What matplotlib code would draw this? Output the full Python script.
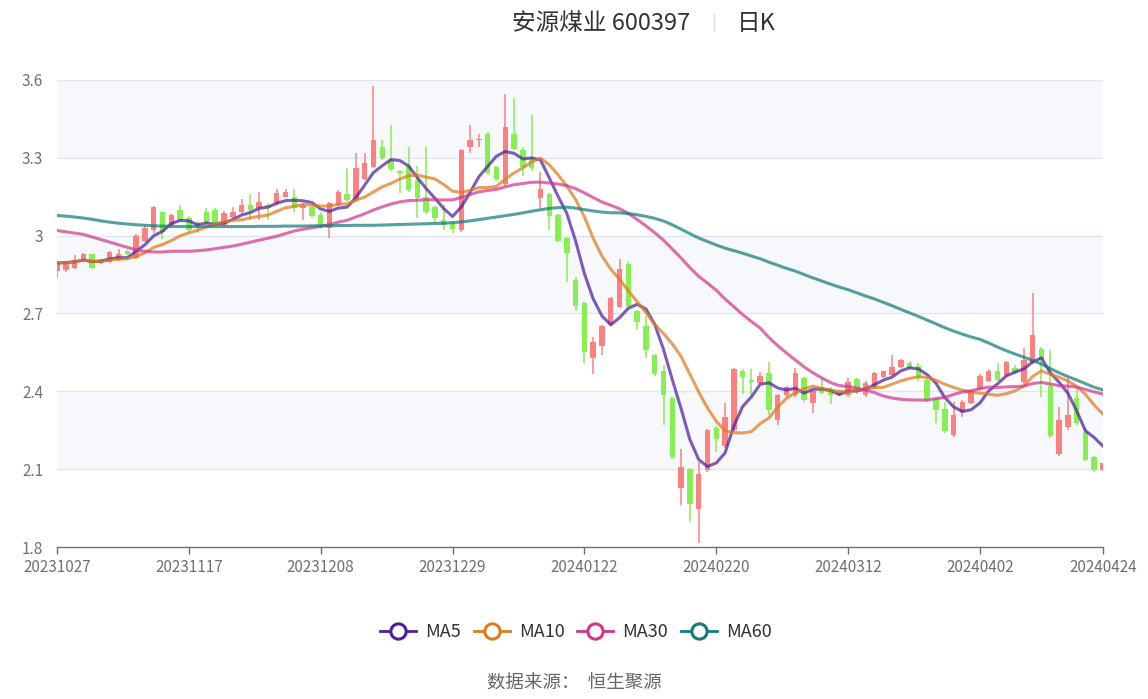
import numpy as np
import pandas as pd
import matplotlib
matplotlib.use("Agg")
import matplotlib.pyplot as plt
from matplotlib.lines import Line2D

plt.rcParams['font.family'] = ['Noto Sans CJK SC', 'DejaVu Sans']

# daily candles (open, high, low, close)
opens = [2.862, 2.868, 2.876, 2.902, 2.928, 2.895, 2.898, 2.906, 2.94, 2.914,
         2.98, 3.02, 3.09, 3.04, 3.10, 3.07, 3.05, 3.09, 3.10, 3.04,
         3.072, 3.09, 3.12, 3.107, 3.12, 3.126, 3.15, 3.15, 3.107, 3.11,
         3.08, 3.03, 3.12, 3.16, 3.137, 3.22, 3.265, 3.34, 3.29, 3.25,
         3.27, 3.215, 3.15, 3.11, 3.06, 3.05, 3.02, 3.34, 3.368, 3.39,
         3.265, 3.20, 3.39, 3.33, 3.30, 3.145, 3.16, 3.08, 2.99, 2.83,
         2.74, 2.53, 2.575, 2.66, 2.725, 2.89, 2.71, 2.65, 2.54, 2.48,
         2.374, 2.027, 2.10, 1.946, 2.097, 2.26, 2.19, 2.25, 2.48, 2.444,
         2.432, 2.47, 2.29, 2.386, 2.386, 2.45, 2.355, 2.416, 2.41, 2.40,
         2.386, 2.447, 2.386, 2.416, 2.455, 2.463, 2.494, 2.51, 2.497, 2.444,
         2.37, 2.33, 2.23, 2.32, 2.355, 2.41, 2.44, 2.48, 2.463, 2.49,
         2.436, 2.51, 2.563, 2.42, 2.158, 2.262, 2.374, 2.243, 2.147, 2.097]
highs = [2.90, 2.90, 2.925, 2.935, 2.93, 2.91, 2.94, 2.95, 2.945, 3.005,
         3.04, 3.115, 3.095, 3.085, 3.12, 3.075, 3.055, 3.105, 3.105, 3.095,
         3.11, 3.14, 3.16, 3.17, 3.125, 3.18, 3.18, 3.18, 3.125, 3.115,
         3.09, 3.13, 3.175, 3.26, 3.32, 3.32, 3.577, 3.37, 3.427, 3.255,
         3.34, 3.27, 3.34, 3.115, 3.12, 3.055, 3.335, 3.427, 3.39, 3.40,
         3.27, 3.546, 3.53, 3.34, 3.465, 3.245, 3.165, 3.085, 2.995, 2.84,
         2.745, 2.61, 2.655, 2.765, 2.91, 2.90, 2.715, 2.69, 2.545, 2.50,
         2.38, 2.178, 2.105, 2.127, 2.255, 2.265, 2.355, 2.49, 2.485, 2.486,
         2.474, 2.513, 2.39, 2.42, 2.49, 2.455, 2.405, 2.45, 2.415, 2.405,
         2.45, 2.45, 2.44, 2.475, 2.48, 2.54, 2.525, 2.515, 2.51, 2.45,
         2.375, 2.36, 2.36, 2.365, 2.405, 2.465, 2.485, 2.51, 2.518, 2.50,
         2.567, 2.78, 2.57, 2.56, 2.34, 2.45, 2.41, 2.26, 2.15, 2.125]
lows = [2.837, 2.86, 2.87, 2.898, 2.872, 2.89, 2.895, 2.902, 2.925, 2.91,
        2.975, 3.012, 2.987, 3.03, 3.055, 3.01, 3.01, 3.045, 3.045, 3.035,
        3.06, 3.085, 3.06, 3.06, 3.06, 3.12, 3.145, 3.09, 3.06, 3.07,
        3.03, 2.99, 3.115, 3.13, 3.13, 3.215, 3.26, 3.29, 3.25, 3.165,
        3.17, 3.07, 3.085, 3.05, 3.02, 3.01, 3.015, 3.32, 3.34, 3.235,
        3.21, 3.19, 3.33, 3.23, 3.25, 3.106, 3.02, 2.975, 2.82, 2.71,
        2.51, 2.467, 2.54, 2.655, 2.72, 2.725, 2.636, 2.53, 2.46, 2.27,
        2.14, 1.96, 1.896, 1.815, 2.09, 2.166, 2.18, 2.245, 2.39, 2.386,
        2.43, 2.31, 2.27, 2.38, 2.38, 2.36, 2.316, 2.39, 2.35, 2.385,
        2.38, 2.39, 2.38, 2.41, 2.45, 2.46, 2.49, 2.485, 2.44, 2.36,
        2.278, 2.24, 2.225, 2.30, 2.35, 2.405, 2.435, 2.44, 2.455, 2.465,
        2.43, 2.505, 2.378, 2.22, 2.15, 2.25, 2.27, 2.13, 2.09, 2.093]
closes = [2.895, 2.897, 2.905, 2.928, 2.876, 2.906, 2.936, 2.93, 2.928, 3.0,
          3.03, 3.11, 3.015, 3.078, 3.06, 3.022, 3.035, 3.05, 3.05, 3.087,
          3.09, 3.12, 3.10, 3.13, 3.11, 3.165, 3.17, 3.107, 3.12, 3.076,
          3.04, 3.126, 3.17, 3.137, 3.26, 3.28, 3.37, 3.30, 3.257, 3.24,
          3.176, 3.145, 3.09, 3.07, 3.04, 3.025, 3.33, 3.37, 3.372, 3.24,
          3.22, 3.42, 3.334, 3.265, 3.26, 3.18, 3.076, 2.98, 2.933, 2.73,
          2.55, 2.59, 2.65, 2.76, 2.87, 2.73, 2.667, 2.56, 2.467, 2.385,
          2.147, 2.108, 1.966, 2.08, 2.25, 2.216, 2.30, 2.486, 2.455, 2.436,
          2.459, 2.328, 2.386, 2.416, 2.47, 2.367, 2.40, 2.394, 2.386, 2.39,
          2.436, 2.40, 2.432, 2.47, 2.477, 2.494, 2.522, 2.49, 2.45, 2.366,
          2.328, 2.247, 2.31, 2.36, 2.40, 2.459, 2.48, 2.445, 2.513, 2.474,
          2.52, 2.617, 2.52, 2.228, 2.29, 2.31, 2.278, 2.135, 2.097, 2.123]

ma30_head = [3.02, 3.015, 3.01, 3.005, 2.995, 2.985, 2.975, 2.965, 2.955, 2.945,
             2.94, 2.937, 2.937, 2.94, 2.94, 2.94, 2.942, 2.945, 2.95, 2.955,
             2.96, 2.967, 2.975, 2.983, 2.99, 2.998, 3.008, 3.018, 3.025]
ma60_head = [3.078, 3.075, 3.072, 3.068, 3.063, 3.057, 3.052, 3.048, 3.045, 3.042,
             3.04, 3.038, 3.037, 3.036, 3.035, 3.035, 3.035, 3.035, 3.035, 3.035,
             3.035, 3.035, 3.035, 3.036, 3.036, 3.036, 3.037, 3.037, 3.037, 3.038,
             3.038, 3.038, 3.039, 3.039, 3.04, 3.04, 3.04, 3.041, 3.042, 3.043,
             3.044, 3.045, 3.046, 3.047, 3.048, 3.05, 3.053, 3.057, 3.062, 3.067,
             3.072, 3.077, 3.082, 3.088, 3.094, 3.10, 3.105, 3.108, 3.11]

tick_idx = [0, 15, 30, 45, 60, 75, 90, 105, 119]
tick_dates = ['20231027', '20231117', '20231208', '20231229', '20240122',
              '20240220', '20240312', '20240402', '20240424']
y_ticks = [1.8, 2.1, 2.4, 2.7, 3.0, 3.3, 3.6]
y_labels = ['1.8', '2.1', '2.4', '2.7', '3', '3.3', '3.6']

ma_names = ['MA5', 'MA10', 'MA30', 'MA60']
ma_colors = ['#4b1f9e', '#e07a1f', '#d2368c', '#137b7b']

o = np.array(opens)
h = np.array(highs)
l = np.array(lows)
c = np.array(closes)
x = np.arange(len(c))

s = pd.Series(c)
ma5 = s.rolling(5, min_periods=1).mean().values
ma10 = s.rolling(10, min_periods=1).mean().values
ma30 = s.rolling(30).mean().values
ma30[:len(ma30_head)] = ma30_head
ma60 = s.rolling(60).mean().values
ma60[:len(ma60_head)] = ma60_head

fig = plt.figure(figsize=(11.48, 6.99), dpi=100)
ax = fig.add_axes([57 / 1148, 1 - 547 / 699, (1103 - 57) / 1148, (547 - 80) / 699])

# alternating background bands + grid
for k in range(len(y_ticks) - 1):
    band = '#f6f8fc' if k % 2 == 1 else 'white'
    ax.axhspan(y_ticks[k], y_ticks[k + 1], color=band, zorder=0, lw=0)
for yv in y_ticks[1:]:
    ax.axhline(yv, color='#e0e6f1', lw=1, zorder=1)

# candles
up = c >= o
red = '#fd8080'
green = '#86ef52'
cols = np.where(up, red, green)
ax.vlines(x, l, h, colors=cols, lw=1.1, zorder=2)
body_low = np.minimum(o, c)
body_h = np.maximum(np.abs(c - o), 0.004)
ax.bar(x, body_h, bottom=body_low, width=0.62, color=cols, lw=0, zorder=3)

# moving averages
for vals, col in zip([ma5, ma10, ma30, ma60], ma_colors):
    ax.plot(x, vals, color=col, lw=2.2, alpha=0.72, zorder=4, solid_capstyle='round')

ax.set_xlim(0, len(c) - 1)
ax.set_ylim(1.8, 3.6)
ax.set_yticks(y_ticks)
ax.set_yticklabels(y_labels)
ax.set_xticks(tick_idx)
ax.set_xticklabels(tick_dates)
ax.tick_params(axis='y', length=0, pad=10, labelsize=11, labelcolor='#6e7079')
ax.tick_params(axis='x', length=5, width=1, color='#6e7079', pad=4, labelsize=11, labelcolor='#6e7079')
for side in ['top', 'right', 'left']:
    ax.spines[side].set_visible(False)
ax.spines['bottom'].set_color('#6e7079')
ax.spines['bottom'].set_linewidth(1)

# title
fig.text(690 / 1148, 1 - 23 / 699, '安源煤业 600397', ha='right', va='center', fontsize=17, color='#333333')
fig.add_artist(Line2D([714 / 1148, 714 / 1148], [1 - 14 / 699, 1 - 31 / 699],
                      transform=fig.transFigure, color='#dddddd', lw=1))
fig.text(737 / 1148, 1 - 23 / 699, '日K', ha='left', va='center', fontsize=17, color='#333333')

# legend
handles = [Line2D([], [], color=col, lw=2, marker='o', markersize=11, markerfacecolor='white',
                  markeredgecolor=col, markeredgewidth=2.2) for col in ma_colors]
fig.legend(handles, ma_names, loc='center', bbox_to_anchor=(576 / 1148, 1 - 632 / 699), ncol=4,
           frameon=False, fontsize=13, labelcolor='#333333', handlelength=2.0,
           columnspacing=0.7, handletextpad=0.5)

fig.text(574 / 1148, 1 - 684 / 699, '数据来源：  恒生聚源', ha='center', va='center', fontsize=13.3, color='#666666')

fig.savefig('out.png', dpi=100)
